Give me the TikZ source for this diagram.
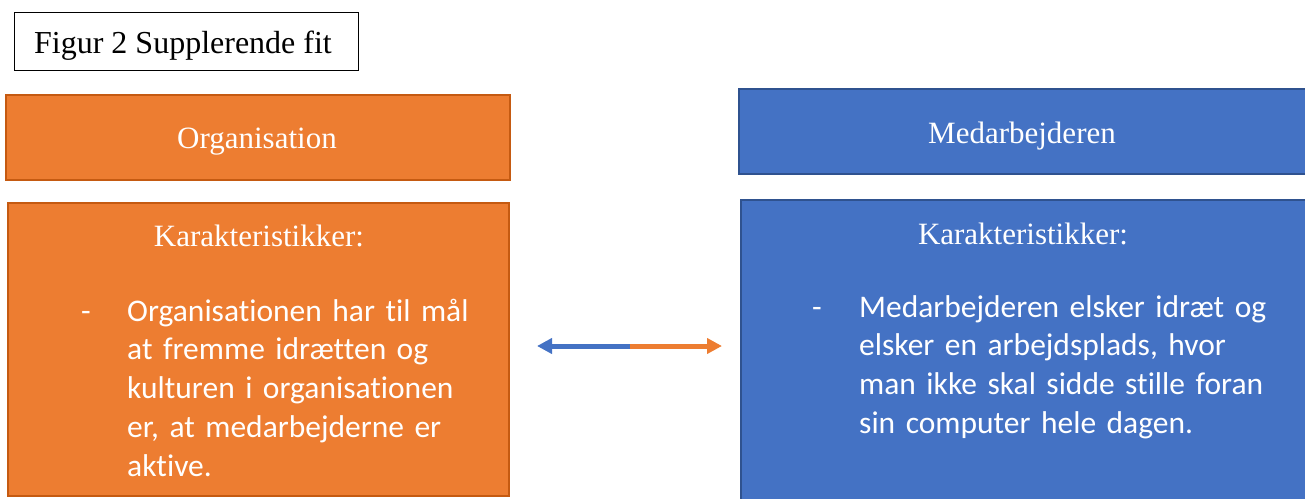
\documentclass[tikz,border=0pt]{standalone}
\usepackage{fontspec}
\setmainfont{Liberation Serif}
\newfontfamily\bodyfont[Ligatures={NoCommon}]{Carlito}
\usetikzlibrary{arrows.meta}
\definecolor{orgfill}{HTML}{ED7D31}
\definecolor{orgline}{HTML}{C55A11}
\definecolor{medfill}{HTML}{4472C4}
\definecolor{medline}{HTML}{2F528F}

\begin{document}
\begin{tikzpicture}[x=1pt,y=-1pt,
  orgbox/.style={draw=orgline,fill=orgfill,line width=2pt},
  medbox/.style={draw=medline,fill=medfill,line width=2pt},
  serifhead/.style={anchor=base,inner sep=0pt,font=\fontsize{31}{37}\selectfont,text=white},
  bodytext/.style={anchor=base west,inner sep=0pt,text width=420pt,align=left,
    font=\bodyfont\fontsize{31.5}{38.8}\selectfont,text=white},
  dashmark/.style={anchor=base,inner sep=0pt,font=\bodyfont\fontsize{31.5}{38.8}\selectfont,text=white},
  shaft/.style={line width=5pt,-{Triangle[length=15pt,width=15pt]}}]
\useasboundingbox (0,0) rectangle (1305,498);

% caption box
\draw[line width=1pt] (14,12) rectangle (358,70);
\node[anchor=base,inner sep=0pt,font=\fontsize{32}{38}\selectfont] (caption) at (183,53) {Figur 2 Supplerende fit};

% headers
\draw[orgbox] (6,95) rectangle (510,180);
\node[serifhead] (orghead) at (257,148) {Organisation};
\draw[medbox] (739,89) rectangle (1320,174);
\node[serifhead] (medhead) at (1022,143) {Medarbejderen};

% characteristics boxes
\draw[orgbox] (8,203) rectangle (509,496);
\node[serifhead] (orgkar) at (259,246) {Karakteristikker:};
\node[dashmark] (orgdash) at (86,321) {-};
\node[bodytext] (orgbody) at (127,321) {Organisationen har til mål\\at fremme idrætten og\\kulturen i organisationen\\er, at medarbejderne er\\aktive.};

\draw[medbox] (741,200) rectangle (1320,510);
\node[serifhead] (medkar) at (1023,244) {Karakteristikker:};
\node[dashmark] (meddash) at (817,317) {-};
\node[bodytext] (medbody) at (859,317) {Medarbejderen elsker idræt og\\elsker en arbejdsplads, hvor\\man ikke skal sidde stille foran\\sin computer hele dagen.};

% double arrow between the two sides
\coordinate (fitmid) at (630,346);
\coordinate (fitleft) at (537,346);
\coordinate (fitright) at (722,346);
\draw[shaft,medfill] (fitmid) -- (fitleft);
\draw[shaft,orgfill] (fitmid) -- (fitright);
\end{tikzpicture}
\end{document}
